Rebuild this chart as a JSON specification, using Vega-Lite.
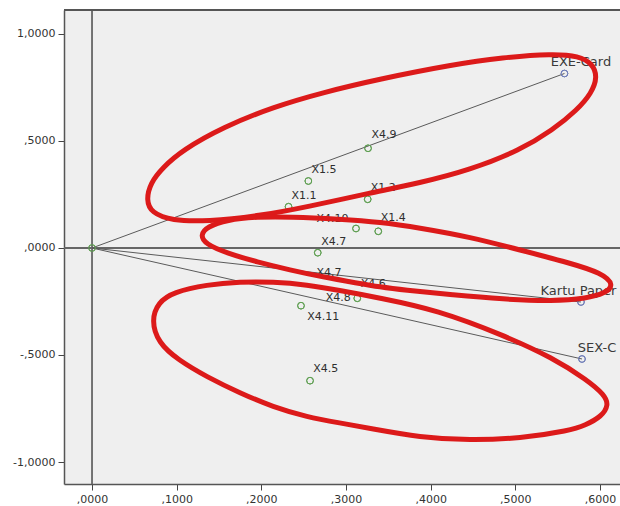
{
  "$schema": "https://vega.github.io/schema/vega-lite/v6.json",
  "width": 556,
  "height": 474,
  "autosize": {"type": "none"},
  "padding": {"left": 64, "top": 10, "right": 0, "bottom": 22},
  "background": "white",
  "config": {
    "view": {"fill": "#efefef", "stroke": null},
    "font": "DejaVu Sans",
    "axis": {
      "grid": false,
      "labelFont": "DejaVu Sans",
      "labelFontSize": 11,
      "labelColor": "#333333",
      "tickColor": "#444444",
      "tickSize": 6,
      "domainColor": "#555555",
      "domainWidth": 1.5,
      "labelPadding": 3
    }
  },
  "datasets": {
    "points": [
      {"name": "origin", "kind": "item", "x": 0, "y": 0},
      {"name": "X4.9", "kind": "item", "x": 0.326, "y": 0.466},
      {"name": "X1.5", "kind": "item", "x": 0.2555, "y": 0.313},
      {"name": "X1.1", "kind": "item", "x": 0.2321, "y": 0.193},
      {"name": "X1.2", "kind": "item", "x": 0.3256, "y": 0.2276},
      {"name": "X4.10", "kind": "item", "x": 0.3118, "y": 0.0911},
      {"name": "X1.4", "kind": "item", "x": 0.3381, "y": 0.078},
      {"name": "X4.7", "kind": "item", "x": 0.2666, "y": -0.022},
      {"name": "X4.6", "kind": "item", "x": 0.3133, "y": -0.235},
      {"name": "X4.11", "kind": "item", "x": 0.2468, "y": -0.2696},
      {"name": "X4.5", "kind": "item", "x": 0.2575, "y": -0.62},
      {"name": "EXE-Card", "kind": "vector", "x": 0.558, "y": 0.8154},
      {"name": "Kartu Paper", "kind": "vector", "x": 0.5775, "y": -0.2523},
      {"name": "SEX-C", "kind": "vector", "x": 0.5787, "y": -0.5187}
    ],
    "labels": [
      {"text": "EXE-Card", "kind": "vector", "x": 0.5775, "y": 0.8692},
      {"text": "Kartu Paper", "kind": "vector", "x": 0.5746, "y": -0.2009},
      {"text": "SEX-C", "kind": "vector", "x": 0.5964, "y": -0.4659},
      {"text": "X4.9", "kind": "item", "x": 0.3449, "y": 0.528},
      {"text": "X1.5", "kind": "item", "x": 0.274, "y": 0.3645},
      {"text": "X1.1", "kind": "item", "x": 0.2504, "y": 0.243},
      {"text": "X1.2", "kind": "item", "x": 0.344, "y": 0.279},
      {"text": "X4.10", "kind": "item", "x": 0.284, "y": 0.1341},
      {"text": "X1.4", "kind": "item", "x": 0.3558, "y": 0.1388},
      {"text": "X4.7", "kind": "item", "x": 0.2855, "y": 0.0294},
      {"text": "X4.7", "kind": "item", "x": 0.2799, "y": -0.1182},
      {"text": "X4.6", "kind": "item", "x": 0.3322, "y": -0.1696},
      {"text": "X4.8", "kind": "item", "x": 0.2909, "y": -0.235},
      {"text": "X4.11", "kind": "item", "x": 0.2732, "y": -0.3238},
      {"text": "X4.5", "kind": "item", "x": 0.2761, "y": -0.5668}
    ],
    "refs": [
      {"x0": 0, "y0": 0, "top": 1.1121}
    ],
    "ellipses": [
      {"id": 1, "o": 1, "x": 0.064, "y": 0.224},
      {"id": 1, "o": 2, "x": 0.069, "y": 0.304},
      {"id": 1, "o": 3, "x": 0.083, "y": 0.374},
      {"id": 1, "o": 4, "x": 0.107, "y": 0.458},
      {"id": 1, "o": 5, "x": 0.155, "y": 0.565},
      {"id": 1, "o": 6, "x": 0.214, "y": 0.659},
      {"id": 1, "o": 7, "x": 0.273, "y": 0.727},
      {"id": 1, "o": 8, "x": 0.34, "y": 0.79},
      {"id": 1, "o": 9, "x": 0.426, "y": 0.857},
      {"id": 1, "o": 10, "x": 0.485, "y": 0.89},
      {"id": 1, "o": 11, "x": 0.544, "y": 0.908},
      {"id": 1, "o": 12, "x": 0.575, "y": 0.897},
      {"id": 1, "o": 13, "x": 0.591, "y": 0.862},
      {"id": 1, "o": 14, "x": 0.597, "y": 0.799},
      {"id": 1, "o": 15, "x": 0.59, "y": 0.724},
      {"id": 1, "o": 16, "x": 0.573, "y": 0.645},
      {"id": 1, "o": 17, "x": 0.544, "y": 0.551},
      {"id": 1, "o": 18, "x": 0.506, "y": 0.458},
      {"id": 1, "o": 19, "x": 0.446, "y": 0.364},
      {"id": 1, "o": 20, "x": 0.387, "y": 0.304},
      {"id": 1, "o": 21, "x": 0.328, "y": 0.257},
      {"id": 1, "o": 22, "x": 0.254, "y": 0.192},
      {"id": 1, "o": 23, "x": 0.198, "y": 0.15},
      {"id": 1, "o": 24, "x": 0.136, "y": 0.124},
      {"id": 1, "o": 25, "x": 0.094, "y": 0.128},
      {"id": 1, "o": 26, "x": 0.07, "y": 0.165},
      {"id": 2, "o": 1, "x": 0.1279, "y": 0.0607},
      {"id": 2, "o": 2, "x": 0.1358, "y": 0.0991},
      {"id": 2, "o": 3, "x": 0.1594, "y": 0.1318},
      {"id": 2, "o": 4, "x": 0.1949, "y": 0.1459},
      {"id": 2, "o": 5, "x": 0.2338, "y": 0.1459},
      {"id": 2, "o": 6, "x": 0.2929, "y": 0.1348},
      {"id": 2, "o": 7, "x": 0.3401, "y": 0.1215},
      {"id": 2, "o": 8, "x": 0.3874, "y": 0.0935},
      {"id": 2, "o": 9, "x": 0.4464, "y": 0.0514},
      {"id": 2, "o": 10, "x": 0.5055, "y": -0.0093},
      {"id": 2, "o": 11, "x": 0.5645, "y": -0.0701},
      {"id": 2, "o": 12, "x": 0.602, "y": -0.1168},
      {"id": 2, "o": 13, "x": 0.6171, "y": -0.1729},
      {"id": 2, "o": 14, "x": 0.6055, "y": -0.2123},
      {"id": 2, "o": 15, "x": 0.5846, "y": -0.2356},
      {"id": 2, "o": 16, "x": 0.5445, "y": -0.2487},
      {"id": 2, "o": 17, "x": 0.4854, "y": -0.2393},
      {"id": 2, "o": 18, "x": 0.4264, "y": -0.2196},
      {"id": 2, "o": 19, "x": 0.3673, "y": -0.1963},
      {"id": 2, "o": 20, "x": 0.3401, "y": -0.1822},
      {"id": 2, "o": 21, "x": 0.313, "y": -0.1636},
      {"id": 2, "o": 22, "x": 0.2728, "y": -0.1355},
      {"id": 2, "o": 23, "x": 0.2338, "y": -0.1028},
      {"id": 2, "o": 24, "x": 0.1949, "y": -0.0654},
      {"id": 2, "o": 25, "x": 0.1594, "y": -0.0244},
      {"id": 2, "o": 26, "x": 0.1338, "y": 0.0187},
      {"id": 3, "o": 1, "x": 0.07, "y": -0.3364},
      {"id": 3, "o": 2, "x": 0.0783, "y": -0.254},
      {"id": 3, "o": 3, "x": 0.0957, "y": -0.2063},
      {"id": 3, "o": 4, "x": 0.1358, "y": -0.1709},
      {"id": 3, "o": 5, "x": 0.1748, "y": -0.1579},
      {"id": 3, "o": 6, "x": 0.2138, "y": -0.1579},
      {"id": 3, "o": 7, "x": 0.2539, "y": -0.1719},
      {"id": 3, "o": 8, "x": 0.2929, "y": -0.1989},
      {"id": 3, "o": 9, "x": 0.3401, "y": -0.2336},
      {"id": 3, "o": 10, "x": 0.4075, "y": -0.2897},
      {"id": 3, "o": 11, "x": 0.4854, "y": -0.4065},
      {"id": 3, "o": 12, "x": 0.5445, "y": -0.514},
      {"id": 3, "o": 13, "x": 0.5846, "y": -0.6168},
      {"id": 3, "o": 14, "x": 0.6055, "y": -0.6869},
      {"id": 3, "o": 15, "x": 0.6102, "y": -0.7336},
      {"id": 3, "o": 16, "x": 0.602, "y": -0.787},
      {"id": 3, "o": 17, "x": 0.5823, "y": -0.8291},
      {"id": 3, "o": 18, "x": 0.5645, "y": -0.8525},
      {"id": 3, "o": 19, "x": 0.5055, "y": -0.8899},
      {"id": 3, "o": 20, "x": 0.4464, "y": -0.8992},
      {"id": 3, "o": 21, "x": 0.3874, "y": -0.8852},
      {"id": 3, "o": 22, "x": 0.3283, "y": -0.8431},
      {"id": 3, "o": 23, "x": 0.2929, "y": -0.8178},
      {"id": 3, "o": 24, "x": 0.2539, "y": -0.7897},
      {"id": 3, "o": 25, "x": 0.2138, "y": -0.743},
      {"id": 3, "o": 26, "x": 0.1748, "y": -0.6776},
      {"id": 3, "o": 27, "x": 0.1358, "y": -0.6028},
      {"id": 3, "o": 28, "x": 0.1019, "y": -0.5234},
      {"id": 3, "o": 29, "x": 0.0783, "y": -0.4439}
    ]
  },
  "layer": [
    {
      "data": {"name": "points"},
      "mark": {"type": "point", "filled": false, "size": 45, "strokeWidth": 1, "opacity": 1},
      "encoding": {
        "x": {
          "field": "x", "type": "quantitative", "title": null,
          "scale": {"domain": [-0.0331, 0.6236], "nice": false, "zero": false},
          "axis": {
            "values": [0, 0.1, 0.2, 0.3, 0.4, 0.5, 0.6],
            "labelExpr": "(datum.value < 0 ? '-' : '') + replace(abs(datum.value) < 1 ? substring(format(abs(datum.value), '.4f'), 1) : format(abs(datum.value), '.4f'), '.', ',')"
          }
        },
        "y": {
          "field": "y", "type": "quantitative", "title": null,
          "scale": {"domain": [-1.1028, 1.1121], "nice": false, "zero": false},
          "axis": {
            "values": [-1, -0.5, 0, 0.5, 1],
            "labelExpr": "(datum.value < 0 ? '-' : '') + replace(abs(datum.value) < 1 ? substring(format(abs(datum.value), '.4f'), 1) : format(abs(datum.value), '.4f'), '.', ',')"
          }
        },
        "color": {
          "field": "kind", "type": "nominal", "legend": null,
          "scale": {"domain": ["item", "vector"], "range": ["#5f9f52", "#6f7db8"]}
        }
      }
    },
    {
      "data": {"name": "refs"},
      "mark": {"type": "rule", "color": "#666666", "strokeWidth": 1.8},
      "encoding": {"x": {"field": "x0", "type": "quantitative", "title": null}}
    },
    {
      "data": {"name": "refs"},
      "mark": {"type": "rule", "color": "#666666", "strokeWidth": 1.8},
      "encoding": {"y": {"field": "y0", "type": "quantitative", "title": null}}
    },
    {
      "data": {"name": "refs"},
      "mark": {"type": "rule", "color": "#555555", "strokeWidth": 2},
      "encoding": {"y": {"field": "top", "type": "quantitative", "title": null}}
    },
    {
      "data": {"name": "points"},
      "transform": [{"filter": "datum.kind === 'vector'"}],
      "mark": {"type": "rule", "color": "#5a5a5a", "strokeWidth": 1},
      "encoding": {
        "x": {"field": "x", "type": "quantitative", "title": null},
        "y": {"field": "y", "type": "quantitative", "title": null},
        "x2": {"datum": 0},
        "y2": {"datum": 0}
      }
    },
    {
      "data": {"name": "points"},
      "mark": {"type": "point", "filled": false, "size": 45, "strokeWidth": 1, "opacity": 1},
      "encoding": {
        "x": {"field": "x", "type": "quantitative", "title": null},
        "y": {"field": "y", "type": "quantitative", "title": null},
        "color": {"field": "kind", "type": "nominal", "legend": null}
      }
    },
    {
      "data": {"name": "labels"},
      "transform": [{"filter": "datum.kind === 'item'"}],
      "mark": {"type": "text", "fontSize": 11, "font": "DejaVu Sans", "color": "#2e2e2e", "align": "center", "baseline": "middle"},
      "encoding": {
        "x": {"field": "x", "type": "quantitative", "title": null},
        "y": {"field": "y", "type": "quantitative", "title": null},
        "text": {"field": "text"}
      }
    },
    {
      "data": {"name": "labels"},
      "transform": [{"filter": "datum.kind === 'vector'"}],
      "mark": {"type": "text", "fontSize": 13, "font": "DejaVu Sans", "color": "#3a3a3a", "align": "center", "baseline": "middle"},
      "encoding": {
        "x": {"field": "x", "type": "quantitative", "title": null},
        "y": {"field": "y", "type": "quantitative", "title": null},
        "text": {"field": "text"}
      }
    },
    {
      "data": {"name": "ellipses"},
      "mark": {"type": "line", "color": "#dc1a1a", "strokeWidth": 5, "interpolate": "basis-closed"},
      "encoding": {
        "x": {"field": "x", "type": "quantitative", "title": null},
        "y": {"field": "y", "type": "quantitative", "title": null},
        "detail": {"field": "id"},
        "order": {"field": "o"}
      }
    }
  ]
}
